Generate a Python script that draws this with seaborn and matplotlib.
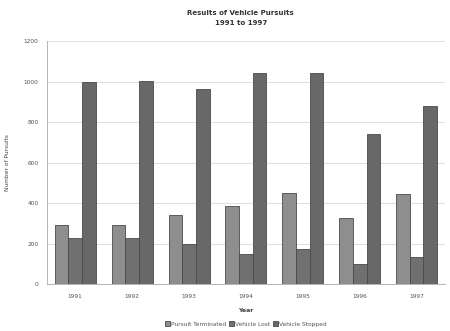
import matplotlib
matplotlib.use("Agg")
import matplotlib.pyplot as plt
import seaborn as sns
import pandas as pd

years = ["1991", "1992", "1993", "1994", "1995", "1996", "1997"]
pursuit_terminated = [290, 290, 340, 385, 450, 326, 445]
vehicle_lost = [225, 225, 200, 148, 173, 99, 133]
vehicle_stopped = [1000, 1005, 965, 1040, 1040, 740, 880]
series_names = ["Pursuit Terminated", "Vehicle Lost", "Vehicle Stopped"]
y_ticks = [0, 200, 400, 600, 800, 1000, 1200]

rows = []
for name, vals in zip(series_names, [pursuit_terminated, vehicle_lost, vehicle_stopped]):
    for y, v in zip(years, vals):
        rows.append({"Year": y, "Series": name, "Value": v})
df = pd.DataFrame(rows)

sns.set_theme(style="white")
plt.rcParams['font.family'] = ['DejaVu Sans']

fig = plt.figure(figsize=(4.5, 3.31), dpi=100)
ax = fig.add_axes([0.104, 0.142, 0.885, 0.734])

palette = {"Pursuit Terminated": "#8e8e8e", "Vehicle Lost": "#707070", "Vehicle Stopped": "#686868"}
sns.barplot(data=df, x="Year", y="Value", hue="Series", hue_order=series_names,
            palette=palette, ax=ax, width=0.72, edgecolor="#4a4a4a", linewidth=0.6,
            saturation=1)

ax.set_ylim(0, 1200)
ax.set_yticks(y_ticks)
ax.set_yticklabels([str(t) for t in y_ticks], fontsize=4.2, color="#555555")
ax.tick_params(axis="x", labelsize=4.2, labelcolor="#555555", length=0, pad=7)
ax.tick_params(axis="y", length=2, width=0.5, color="#999999", pad=4)
ax.yaxis.grid(True, color="#d8d8d8", linewidth=0.6)
ax.set_axisbelow(True)
for s in ["top", "right"]:
    ax.spines[s].set_visible(False)
ax.spines["left"].set_color("#aaaaaa")
ax.spines["left"].set_linewidth(0.6)
ax.spines["bottom"].set_color("#aaaaaa")
ax.spines["bottom"].set_linewidth(0.6)

ax.set_xlabel("Year", fontsize=4.5, fontweight="bold", color="#444444", labelpad=7)
ax.set_ylabel("Number of Pursuits", fontsize=4.2, color="#444444", labelpad=10)
fig.text(0.535, 0.97, "Results of Vehicle Pursuits\n1991 to 1997", ha="center", va="top",
         fontsize=5, fontweight="bold", color="#333333", linespacing=1.8)

leg = ax.legend(loc="center", bbox_to_anchor=(0.5, -0.165), ncol=3, frameon=False,
                fontsize=4.2, handlelength=0.8, handleheight=0.8, handletextpad=0.2,
                columnspacing=0.5)
for t in leg.get_texts():
    t.set_color("#555555")

fig.savefig("out.png", dpi=100)
